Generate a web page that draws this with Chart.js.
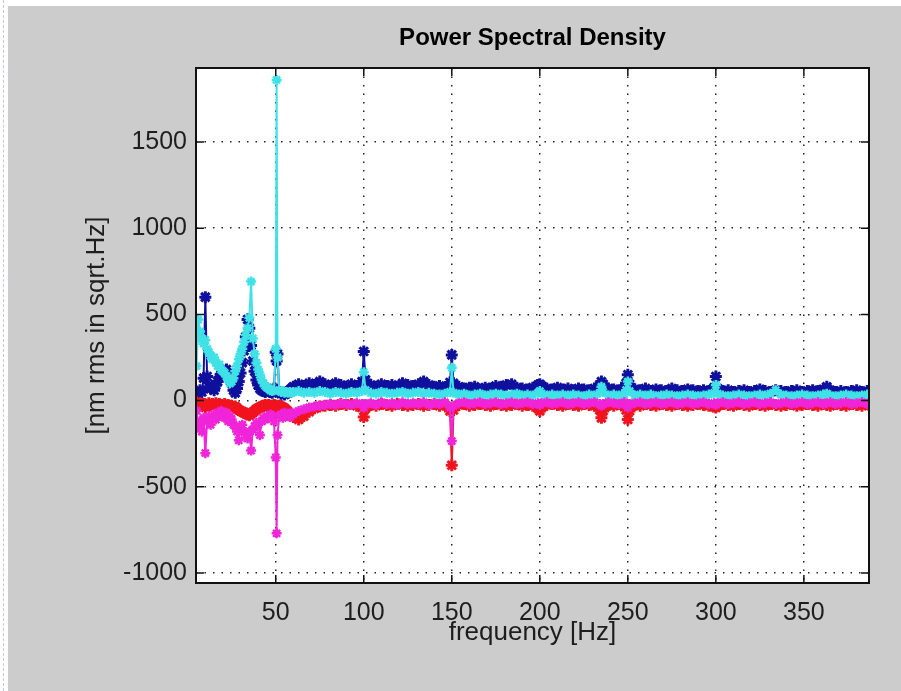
<!DOCTYPE html>
<html>
<head>
<meta charset="utf-8">
<title>Power Spectral Density</title>
<script src="https://cdn.jsdelivr.net/npm/chart.js@4.4.1/dist/chart.umd.min.js"></script>
<style>
  html, body { margin: 0; padding: 0; background: #fff; }
  body { width: 901px; height: 691px; position: relative; overflow: hidden; }
  .edge { position: absolute; left: 3px; top: 0; height: 691px; border-left: 1px dashed #b9c9f2; }
  .panel { position: absolute; left: 8px; top: 6px; width: 893px; height: 685px; background: #cccccc; }
  canvas { display: block; }
</style>
</head>
<body>
<div class="edge"></div>
<div class="panel"><canvas id="psd" width="893" height="685"></canvas></div>
<script>
const chartTitle = "Power Spectral Density";
const xAxisLabel = "frequency [Hz]";
const yAxisLabel = "[nm rms in sqrt.Hz]";

const xTickValues = [50, 100, 150, 200, 250, 300, 350];
const yTickValues = [-1000, -500, 0, 500, 1000, 1500];

// frequency bins (Hz), shared by all four traces
const freqHz = [
  5, 6, 7, 8, 9, 10, 11, 12, 13, 14,
  15, 16, 17, 18, 19, 20, 21, 22, 23, 24,
  25, 26, 27, 28, 29, 30, 31, 32, 33, 34,
  35, 36, 37, 38, 39, 40, 41, 42, 43, 44,
  45, 46, 47, 48, 49, 50, 50.5, 51, 52, 53,
  54, 55, 56, 57, 58, 59, 60, 63, 66, 69,
  72, 75, 78, 81, 84, 87, 90, 93, 96, 99,
  100, 101, 104, 107, 110, 113, 116, 119, 122, 125,
  128, 131, 134, 137, 140, 143, 146, 149, 150, 151,
  154, 157, 160, 163, 166, 169, 172, 175, 178, 181,
  184, 187, 190, 193, 196, 199, 200, 201, 204, 207,
  210, 213, 216, 219, 222, 225, 228, 231, 234, 235,
  236, 239, 242, 245, 248, 249, 250, 251, 254, 257,
  260, 263, 266, 269, 272, 275, 278, 281, 284, 287,
  290, 293, 296, 299, 300, 301, 304, 307, 310, 313,
  316, 319, 322, 325, 328, 331, 334, 337, 340, 343,
  346, 349, 352, 355, 358, 361, 363, 365, 368, 371,
  374, 377, 380, 383, 386, 387
];

const psdBlue = [
  30, 45, 60, 50, 130, 600, 140, 80, 70, 85,
  60, 90, 110, 135, 150, 170, 150, 180, 160, 130,
  100, 60, 45, 70, 110, 160, 220, 290, 370, 470,
  420, 320, 230, 170, 120, 90, 70, 60, 55, 50,
  60, 55, 50, 45, 70, 280, 230, 270, 50, 40,
  45, 35, 50, 45, 60, 70, 80, 95, 85, 100,
  90, 110, 95, 85, 100, 90, 80, 95, 85, 110,
  285, 120, 90, 80, 95, 85, 90, 80, 100, 90,
  85, 95, 110, 90, 80, 85, 75, 105, 265, 100,
  80, 70, 75, 80, 65, 75, 70, 85, 80, 90,
  95, 75, 70, 65, 75, 90, 95, 85, 70, 65,
  75, 65, 70, 60, 70, 65, 60, 70, 90, 110,
  95, 70, 65, 60, 70, 100, 150, 95, 65, 60,
  70, 55, 65, 60, 55, 70, 60, 55, 65, 60,
  55, 60, 55, 75, 140, 70, 55, 60, 50, 55,
  60, 50, 55, 65, 55, 50, 60, 55, 50, 55,
  60, 50, 55, 60, 55, 65, 80, 60, 50, 55,
  50, 55, 60, 50, 55, 45
];

const psdCyan = [
  200, 470, 400, 360, 330, 350, 300, 280, 260, 240,
  250, 220, 200, 210, 180, 170, 160, 140, 120, 100,
  110, 130, 170, 200, 240, 270, 300, 340, 380, 420,
  480, 690, 360, 270, 220, 180, 150, 120, 100, 85,
  75, 70, 60, 55, 60, 300, 1860, 250, 60, 50,
  55, 45, 50, 45, 50, 45, 50, 55, 45, 50,
  45, 55, 50, 40, 50, 45, 40, 50, 45, 55,
  165, 60, 45, 40, 50, 45, 40, 45, 50, 40,
  45, 50, 40, 45, 40, 35, 40, 50, 190, 45,
  35, 40, 30, 35, 40, 30, 35, 40, 35, 30,
  35, 40, 30, 35, 30, 45, 55, 40, 30, 35,
  30, 35, 30, 35, 30, 25, 35, 30, 45, 80,
  50, 30, 35, 30, 35, 60, 110, 55, 30, 35,
  30, 35, 25, 30, 35, 30, 25, 30, 35, 30,
  25, 30, 35, 45, 90, 40, 30, 25, 30, 35,
  30, 25, 30, 35, 30, 40, 60, 35, 30, 25,
  30, 35, 30, 25, 30, 35, 40, 30, 25, 30,
  35, 30, 25, 30, 35, 30
];

const psdRed = [
  -10, -25, -15, -30, -20, -40, -25, -15, -30, -20,
  -25, -15, -30, -20, -25, -35, -20, -30, -25, -35,
  -30, -40, -35, -45, -55, -60, -65, -70, -75, -80,
  -85, -75, -70, -60, -50, -45, -40, -35, -30, -25,
  -30, -25, -35, -30, -25, -45, -60, -40, -30, -35,
  -40, -45, -55, -65, -75, -85, -95, -110, -90, -65,
  -45, -35, -30, -25, -30, -20, -25, -20, -30, -40,
  -95, -45, -25, -30, -20, -25, -30, -20, -25, -30,
  -25, -20, -30, -25, -20, -30, -25, -60, -375, -55,
  -25, -20, -30, -25, -20, -25, -30, -20, -25, -30,
  -25, -20, -30, -25, -30, -45, -60, -40, -25, -20,
  -25, -30, -20, -25, -30, -20, -25, -30, -55, -100,
  -60, -25, -30, -20, -30, -55, -110, -60, -25, -30,
  -20, -25, -30, -20, -25, -30, -20, -25, -30, -25,
  -20, -25, -30, -35, -40, -30, -20, -25, -30, -20,
  -25, -30, -20, -25, -30, -20, -25, -30, -25, -20,
  -30, -25, -20, -25, -30, -20, -25, -30, -20, -25,
  -30, -20, -25, -30, -20, -25
];

const psdMagenta = [
  -60, -150, -120, -180, -100, -305, -120, -90, -140, -100,
  -80, -110, -70, -90, -60, -80, -100, -70, -120, -90,
  -110, -140, -150, -180, -230, -160, -140, -180, -200, -220,
  -180, -290, -170, -150, -130, -140, -200, -120, -100, -110,
  -90, -100, -80, -90, -120, -330, -770, -200, -90, -80,
  -100, -70, -90, -80, -95, -70, -80, -60, -50, -40,
  -35, -30, -25, -20, -25, -15, -20, -25, -15, -20,
  -40, -20, -15, -25, -10, -20, -15, -25, -10, -20,
  -15, -20, -10, -25, -15, -20, -10, -40, -235, -30,
  -15, -10, -20, -15, -10, -20, -15, -10, -20, -15,
  -10, -20, -15, -10, -20, -15, -25, -15, -10, -20,
  -15, -10, -20, -15, -10, -20, -15, -10, -20, -30,
  -20, -10, -15, -20, -10, -25, -40, -20, -15, -10,
  -20, -15, -10, -20, -15, -10, -20, -15, -10, -20,
  -15, -10, -20, -15, -25, -15, -10, -20, -15, -10,
  -20, -15, -10, -20, -15, -10, -20, -15, -10, -20,
  -15, -10, -20, -15, -10, -20, -15, -10, -20, -15,
  -10, -20, -15, -10, -20, -15
];

const fontFamily = '"Liberation Sans", Arial, Helvetica, sans-serif';

function toPoints(values) {
  return freqHz.map((f, i) => ({ x: f, y: values[i] }));
}

function trace(values, color, radius, width, order) {
  return {
    data: toPoints(values),
    showLine: true,
    borderColor: color,
    backgroundColor: color,
    borderWidth: 2,
    pointStyle: "star",
    pointRadius: radius,
    pointBorderWidth: width,
    pointBorderColor: color,
    pointBackgroundColor: color,
    order: order
  };
}

// white plot box, black frame with inward ticks, and the title centred on the axes
const matlabFrame = {
  id: "matlabFrame",
  beforeDraw(chart) {
    const { ctx, chartArea: a } = chart;
    ctx.save();
    ctx.fillStyle = "#ffffff";
    ctx.fillRect(a.left, a.top, a.right - a.left, a.bottom - a.top);
    ctx.restore();
  },
  afterDraw(chart) {
    const { ctx, chartArea: a, scales } = chart;
    ctx.save();
    ctx.strokeStyle = "#111";
    ctx.lineWidth = 1.5;
    ctx.beginPath();
    xTickValues.forEach(v => {
      const px = scales.x.getPixelForValue(v);
      ctx.moveTo(px, a.bottom); ctx.lineTo(px, a.bottom - 8);
      ctx.moveTo(px, a.top); ctx.lineTo(px, a.top + 8);
    });
    yTickValues.forEach(v => {
      const py = scales.y.getPixelForValue(v);
      ctx.moveTo(a.left, py); ctx.lineTo(a.left + 8, py);
      ctx.moveTo(a.right, py); ctx.lineTo(a.right - 8, py);
    });
    ctx.stroke();
    ctx.lineWidth = 2;
    ctx.strokeRect(a.left, a.top, a.right - a.left, a.bottom - a.top);

    ctx.fillStyle = "#000";
    ctx.font = "bold 24px " + fontFamily;
    ctx.textAlign = "center";
    ctx.textBaseline = "middle";
    ctx.fillText(chartTitle, (a.left + a.right) / 2, 32);
    ctx.restore();
  }
};

new Chart(document.getElementById("psd"), {
  type: "scatter",
  data: {
    datasets: [
      trace(psdBlue, "#10109e", 6, 3, 3),
      trace(psdCyan, "#3fe2e6", 5, 2.5, 1),
      trace(psdRed, "#f0141e", 6, 3, 2),
      trace(psdMagenta, "#f024d8", 5, 2.5, 0)
    ]
  },
  options: {
    responsive: false,
    animation: false,
    events: [],
    layout: { padding: { left: 0, top: 62, right: 32, bottom: 0 } },
    plugins: {
      legend: { display: false },
      tooltip: { enabled: false },
      title: { display: false }
    },
    scales: {
      x: {
        type: "linear",
        min: 4.7,
        max: 387,
        afterBuildTicks: s => { s.ticks = xTickValues.map(v => ({ value: v })); },
        afterFit: s => { s.height = 108; },
        grid: { color: "#222", lineWidth: 1.5, drawTicks: false },
        border: { display: false, dash: [1.5, 7] },
        ticks: {
          padding: 15,
          autoSkip: false,
          maxRotation: 0,
          color: "#1e1e1e",
          font: { family: fontFamily, size: 25, lineHeight: 1.2 },
          callback: v => String(v)
        },
        title: {
          display: true,
          text: xAxisLabel,
          color: "#1e1e1e",
          font: { family: fontFamily, size: 26, lineHeight: 1.2 },
          padding: { top: 0, bottom: 43 }
        }
      },
      y: {
        type: "linear",
        min: -1058,
        max: 1929,
        afterBuildTicks: s => { s.ticks = yTickValues.map(v => ({ value: v })); },
        afterFit: s => { s.width = 188; },
        grid: { color: "#222", lineWidth: 1.5, drawTicks: false },
        border: { display: false, dash: [1.5, 7] },
        ticks: {
          padding: 9,
          autoSkip: false,
          color: "#1e1e1e",
          font: { family: fontFamily, size: 25, lineHeight: 1.2 },
          callback: v => String(v)
        },
        title: {
          display: true,
          text: yAxisLabel,
          color: "#1e1e1e",
          font: { family: fontFamily, size: 26, lineHeight: 1.2 },
          padding: { top: 73, bottom: 0 }
        }
      }
    }
  },
  plugins: [matlabFrame]
});
</script>
</body>
</html>
